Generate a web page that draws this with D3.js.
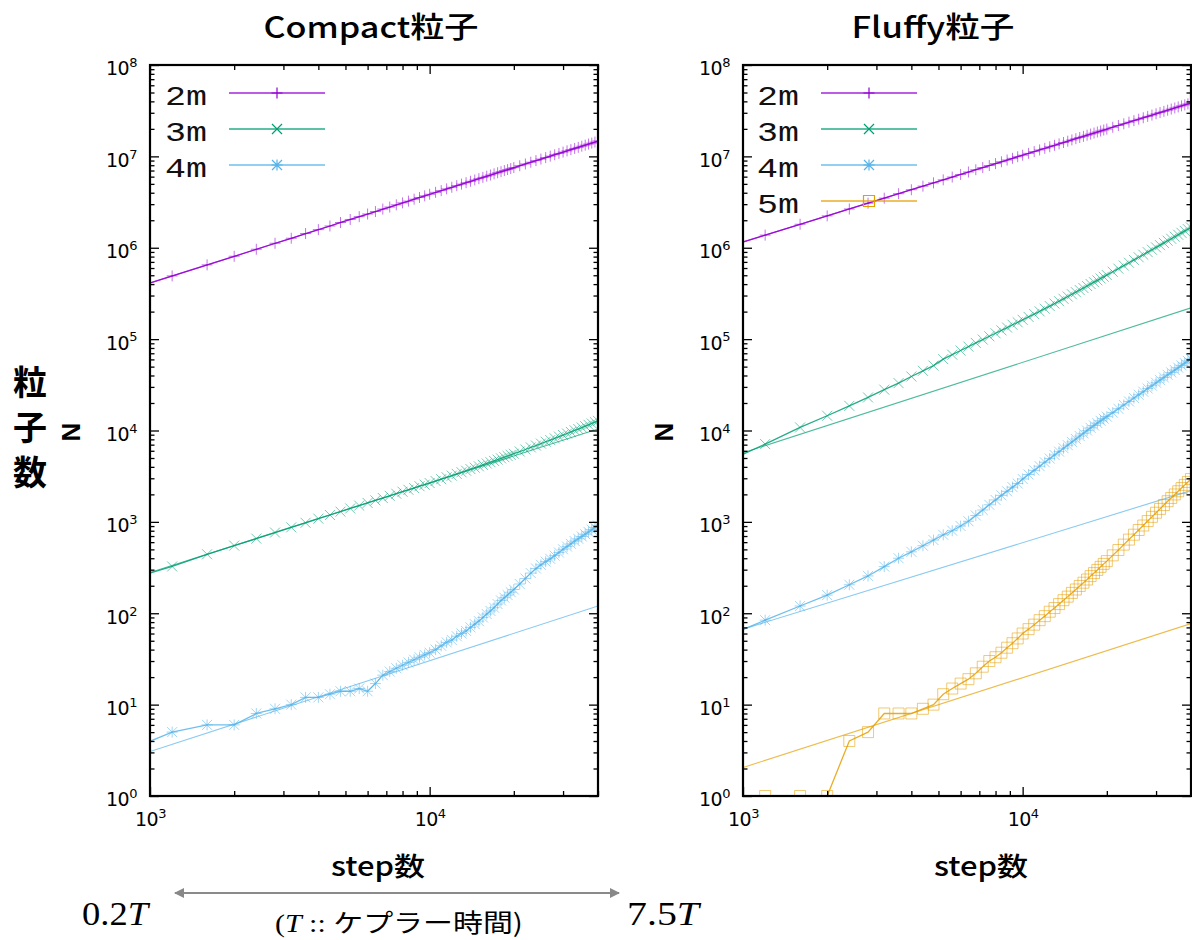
<!DOCTYPE html>
<html><head><meta charset="utf-8">
<script src="https://cdn.jsdelivr.net/npm/d3@7"></script>
<style>body{margin:0;background:#fff}svg{display:block}</style>
</head><body><svg id="c" width="1192" height="940"></svg>
<script>
// ---------- data ----------
const steps = [800,1200,1600,2000,2400,2800,3200,3600,4000,4400,4800,5200,5600,6000,6400,6800,7200,7600,8000,8400,8800,9200,9600,10000,
 10500,11000,11500,12000,12500,13000,13500,14000,14500,15000,15500,16000,16500,17000,17500,18000,18500,19000,19500,20000,
 21000,22000,23000,24000,25000,26000,27000,28000,29000,30000,31000,32000,33000,34000,35000,36000,37000,38000,39000,40000];

const compact2m = [3.32e5,4.92e5,6.50e5,8.07e5,9.63e5,1.12e6,1.27e6,1.43e6,1.58e6,1.73e6,1.89e6,2.04e6,2.19e6,2.34e6,2.49e6,2.65e6,2.79e6,2.95e6,3.10e6,3.24e6,3.40e6,3.55e6,3.70e6,3.85e6,
 4.04e6,4.22e6,4.41e6,4.59e6,4.78e6,4.97e6,5.15e6,5.34e6,5.52e6,5.70e6,5.89e6,6.07e6,6.25e6,6.44e6,6.62e6,6.80e6,6.99e6,7.17e6,7.35e6,7.54e6,
 7.90e6,8.26e6,8.63e6,8.99e6,9.35e6,9.70e6,1.006e7,1.042e7,1.078e7,1.114e7,1.149e7,1.185e7,1.221e7,1.256e7,1.292e7,1.327e7,1.363e7,1.398e7,1.434e7,1.477e7];
const compact3m = [224,325,442,550,656,764,871,977,1084,1189,1294,1403,1507,1611,1718,1824,1928,2032,2138,2244,2344,2455,2553,2661,
 2800,2931,3076,3206,3350,3491,3631,3776,3917,4055,4207,4355,4498,4645,4797,4955,5105,5260,5408,5572,
 5888,6194,6531,6839,7194,7534,7852,8204,8570,8913,9268,9638,10040,10380,10770,11140,11530,11940,12330,12740];
const compact4m = [3,5,6,6,8,9,10,12,12,13,14,14,15,14,17,21,23,25,27,29,31,33,35,37,
 40,44,48,51,56,60,64,70,76,82,90,98,106,115,126,138,148,158,170,182,
 209,240,275,309,339,367,394,427,462,501,537,575,617,653,692,733,776,822,871,912];

const fluffy2m = [9.35e5,1.375e6,1.807e6,2.233e6,2.656e6,3.074e6,3.490e6,3.903e6,4.314e6,4.723e6,5.130e6,5.536e6,5.940e6,6.342e6,6.743e6,7.143e6,7.542e6,7.938e6,8.335e6,8.730e6,9.124e6,9.518e6,9.910e6,1.030e7,
 1.079e7,1.128e7,1.176e7,1.225e7,1.273e7,1.322e7,1.370e7,1.418e7,1.466e7,1.514e7,1.562e7,1.610e7,1.657e7,1.705e7,1.753e7,1.800e7,1.848e7,1.895e7,1.942e7,1.990e7,
 2.084e7,2.178e7,2.272e7,2.366e7,2.460e7,2.553e7,2.646e7,2.739e7,2.832e7,2.925e7,3.017e7,3.110e7,3.202e7,3.294e7,3.386e7,3.478e7,3.570e7,3.661e7,3.753e7,3.844e7];
const fluffy3m = [4000,7100,10800,14500,18600,23000,28000,33000,39000,45000,51300,60400,67600,75000,82800,90800,98900,107400,115900,124700,133700,143600,152800,162600,
 175000,187900,201400,215300,230100,244900,260000,276100,292400,309700,326600,344400,362200,381100,400900,419800,439500,461300,480800,502300,
 545800,590200,638300,685500,736200,787000,839500,895400,950600,1.009e6,1.067e6,1.130e6,1.194e6,1.253e6,1.321e6,1.387e6,1.455e6,1.528e6,1.596e6,1.667e6];
const fluffy4m = [50,84,120,158,205,256,324,400,470,548,632,722,800,900,1016,1175,1349,1538,1738,1950,2160,2400,2630,2950,
 3300,3660,4070,4490,4930,5400,5870,6400,6920,7500,8070,8690,9310,9980,10690,11350,12050,12760,13460,14190,
 15700,17300,19050,20800,22700,24600,26600,28800,30900,33300,35600,38000,40700,43200,45900,48700,51600,54700,57700,60800];
const fluffy5m = [1,1,1,1,4,5,8,8,8,9,10,13,15,17,19,22,26,30,33,37,42,47,53,60,
 67,75,84,93,104,114,126,139,152,167,182,199,216,234,255,275,298,322,347,372,
 430,492,564,640,724,815,912,1021,1135,1259,1387,1528,1683,1828,1995,2163,2344,2541,2735,2944];

// power-law fit lines (value at step 1000 and at step 40000)
const fitSteps = [1000, 40000];
const compactFit2m = [4.1e5, 1.47e7];
const compactFit3m = [279, 1.04e4];
const compactFit4m = [3.07, 120];
const fluffyFit2m = [1.156e6, 3.84e7];
const fluffyFit3m = [5.7e3, 2.2e5];
const fluffyFit4m = [67, 2200];
const fluffyFit5m = [2.05, 77];

const seriesNames = ["2m","3m","4m","5m"];
const yMajor = [1,10,100,1e3,1e4,1e5,1e6,1e7,1e8];
const xMajor = [1e3,1e4];
const xDomain = [1000, 40000];
const yDomain = [1, 1e8];

// ---------- style ----------
const colors = {"2m":"#9400d3","3m":"#009e73","4m":"#56b4e9","5m":"#e69f00"};
const mtype = {"2m":"plus","3m":"cross","4m":"star","5m":"square"};
const Y0 = 65, Y1 = 796;
const svg = d3.select('#c');
svg.append('rect').attr('width',1192).attr('height',940).attr('fill','#fff');

const panels = [
 {id:'cp', x0:150, x1:598, title:'Compact粒子', titleX:371, titleW:215, xlabX:378, nX:71,
  legText:165, legLine:[229,325],
  series:[{n:'2m',v:compact2m,f:compactFit2m},{n:'3m',v:compact3m,f:compactFit3m},{n:'4m',v:compact4m,f:compactFit4m}]},
 {id:'fl', x0:743, x1:1191, title:'Fluffy粒子', titleX:933, titleW:163, xlabX:981, nX:664,
  legText:757, legLine:[821,917],
  series:[{n:'2m',v:fluffy2m,f:fluffyFit2m},{n:'3m',v:fluffy3m,f:fluffyFit3m},{n:'4m',v:fluffy4m,f:fluffyFit4m},{n:'5m',v:fluffy5m,f:fluffyFit5m}]}
];

function marker(type, cx, cy) {
  const r = 5.5;
  const plus = `M${cx-r},${cy}H${cx+r}M${cx},${cy-r}V${cy+r}`;
  const q = 5;
  const cross = `M${cx-q},${cy-q}L${cx+q},${cy+q}M${cx-q},${cy+q}L${cx+q},${cy-q}`;
  if (type==='plus') return plus;
  if (type==='cross') return cross;
  if (type==='star') return plus + cross;
  return `M${cx-r},${cy-r}H${cx+r}V${cy+r}H${cx-r}Z`;
}

const defs = svg.append('defs');

panels.forEach(p => {
  const x = d3.scaleLog().domain(xDomain).range([p.x0, p.x1]);
  const y = d3.scaleLog().domain(yDomain).range([Y1, Y0]);
  defs.append('clipPath').attr('id','clip-'+p.id).append('rect')
    .attr('x',p.x0).attr('y',Y0).attr('width',p.x1-p.x0).attr('height',Y1-Y0);
  const g = svg.append('g');
  const plot = g.append('g').attr('clip-path',`url(#clip-${p.id})`);
  const line = d3.line().x(d=>x(d[0])).y(d=>y(d[1]));

  p.series.forEach(s => {
    const c = colors[s.n];
    plot.append('path').attr('d', line(fitSteps.map((st,i)=>[st, s.f[i]])))
      .attr('fill','none').attr('stroke',c).attr('stroke-width',1.1).attr('stroke-opacity',0.7);
    const pts = steps.map((st,i)=>[st, s.v[i]]);
    plot.append('path').attr('d', line(pts))
      .attr('fill','none').attr('stroke',c).attr('stroke-width',1.3).attr('stroke-opacity',0.85);
    plot.append('g').selectAll('path').data(pts.filter(d=>d[0]>=1000)).join('path')
      .attr('d', d=>marker(mtype[s.n], x(d[0]), y(d[1])))
      .attr('fill','none').attr('stroke',c).attr('stroke-width',1).attr('stroke-opacity',0.55);
  });

  const tickStyle = sel => { sel.select('.domain').remove(); sel.selectAll('line').attr('stroke','#000').attr('stroke-width',1.3); };
  const yMinor = y.ticks().filter(v=>!yMajor.includes(v));
  const xMinor = x.ticks().filter(v=>!xMajor.includes(v));

  const yl = g.append('g').attr('transform',`translate(${p.x0},0)`)
    .call(d3.axisLeft(y).tickValues(yMajor).tickSize(-9).tickPadding(13)).call(tickStyle);
  yl.selectAll('.tick text').each(function(d){
    const t = d3.select(this).text(null).attr('font-family','DejaVu Sans, sans-serif').attr('font-size',19)
      .attr('fill','#000').attr('dy','0.52em').attr('letter-spacing',-0.5);
    t.append('tspan').text('10');
    t.append('tspan').attr('dy','-0.62em').attr('font-size',13).text(Math.round(Math.log10(d)));
  });
  g.append('g').attr('transform',`translate(${p.x0},0)`).call(d3.axisLeft(y).tickValues(yMinor).tickSize(-4.5).tickFormat('')).call(tickStyle);
  g.append('g').attr('transform',`translate(${p.x1},0)`).call(d3.axisRight(y).tickValues(yMajor).tickSize(-9).tickFormat('')).call(tickStyle);
  g.append('g').attr('transform',`translate(${p.x1},0)`).call(d3.axisRight(y).tickValues(yMinor).tickSize(-4.5).tickFormat('')).call(tickStyle);

  const xl = g.append('g').attr('transform',`translate(0,${Y1})`)
    .call(d3.axisBottom(x).tickValues(xMajor).tickSize(-9).tickPadding(17)).call(tickStyle);
  xl.selectAll('.tick text').each(function(d){
    const t = d3.select(this).text(null).attr('font-family','DejaVu Sans, sans-serif').attr('font-size',19)
      .attr('fill','#000').attr('letter-spacing',-0.5);
    t.append('tspan').text('10');
    t.append('tspan').attr('dy','-0.62em').attr('font-size',13).text(Math.round(Math.log10(d)));
  });
  g.append('g').attr('transform',`translate(0,${Y1})`).call(d3.axisBottom(x).tickValues(xMinor).tickSize(-5).tickFormat('')).call(tickStyle);
  g.append('g').attr('transform',`translate(0,${Y0})`).call(d3.axisTop(x).tickValues(xMajor).tickSize(-9).tickFormat('')).call(tickStyle);
  g.append('g').attr('transform',`translate(0,${Y0})`).call(d3.axisTop(x).tickValues(xMinor).tickSize(-5).tickFormat('')).call(tickStyle);

  g.append('rect').attr('x',p.x0).attr('y',Y0).attr('width',p.x1-p.x0).attr('height',Y1-Y0)
    .attr('fill','none').attr('stroke','#000').attr('stroke-width',2.2);

  g.append('text').attr('x',p.titleX).attr('y',38).attr('text-anchor','middle')
    .attr('font-family','Noto Sans CJK JP, sans-serif').attr('font-size',29).attr('font-weight',500)
    .attr('textLength',p.titleW).attr('lengthAdjust','spacingAndGlyphs').text(p.title);
  g.append('text').attr('x',p.xlabX).attr('y',876).attr('text-anchor','middle')
    .attr('font-family','Noto Sans CJK JP, sans-serif').attr('font-size',26).attr('font-weight',500)
    .attr('textLength',94).attr('lengthAdjust','spacingAndGlyphs').text('step数');
  g.append('text').attr('transform',`translate(${p.nX},432) rotate(-90)`).attr('text-anchor','middle')
    .attr('dy','0.36em').attr('font-family','Liberation Sans, Arial, sans-serif').attr('font-weight','bold')
    .attr('font-size',26).text('N');

  p.series.forEach((s,i) => {
    const ly = 93 + 36*i;
    const c = colors[s.n];
    g.append('text').attr('x',p.legText).attr('y',ly+12)
      .attr('font-family','Liberation Mono, monospace').attr('font-size',27)
      .attr('textLength',42).attr('lengthAdjust','spacingAndGlyphs').attr('fill','#111').text(s.n);
    g.append('line').attr('x1',p.legLine[0]).attr('x2',p.legLine[1]).attr('y1',ly).attr('y2',ly)
      .attr('stroke',c).attr('stroke-width',1.3).attr('stroke-opacity',0.85);
    g.append('path').attr('d',marker(mtype[s.n], (p.legLine[0]+p.legLine[1])/2, ly))
      .attr('fill','none').attr('stroke',c).attr('stroke-width',1.2);
  });
});

['粒','子','数'].forEach((ch,i)=>{
  svg.append('text').attr('x',30).attr('y',383+45*i).attr('text-anchor','middle').attr('dy','0.36em')
    .attr('font-family','Noto Sans CJK JP, sans-serif').attr('font-size',34).attr('font-weight',700).text(ch);
});

const arr = defs.append('marker').attr('id','ah').attr('viewBox','0 0 10 10').attr('refX',9).attr('refY',5)
  .attr('markerWidth',5).attr('markerHeight',5).attr('orient','auto-start-reverse');
arr.append('path').attr('d','M0,0L10,5L0,10Z').attr('fill','#888');
svg.append('line').attr('x1',175).attr('x2',619).attr('y1',893).attr('y2',893)
  .attr('stroke','#8a8a8a').attr('stroke-width',2)
  .attr('marker-start','url(#ah)').attr('marker-end','url(#ah)');

function tLabel(xp, txt, w) {
  const t = svg.append('text').attr('x',xp).attr('y',925).attr('font-family','Liberation Serif, serif').attr('font-size',33)
    .attr('textLength',w).attr('lengthAdjust','spacingAndGlyphs');
  t.append('tspan').text(txt);
  t.append('tspan').attr('font-style','italic').text('T');
}
tLabel(82, '0.2', 66);
tLabel(627, '7.5', 72);

const note = svg.append('text').attr('x',275).attr('y',932).attr('font-size',25)
  .attr('textLength',248).attr('lengthAdjust','spacingAndGlyphs');
note.append('tspan').attr('font-family','Liberation Serif, serif').text('(');
note.append('tspan').attr('font-family','Liberation Serif, serif').attr('font-style','italic').text('T');
note.append('tspan').attr('font-family','Liberation Serif, serif').text(' :: ');
note.append('tspan').attr('font-family','Noto Sans CJK JP, sans-serif').text('ケプラー時間');
note.append('tspan').attr('font-family','Noto Sans CJK JP, sans-serif').text(')');
</script>
</body></html>
